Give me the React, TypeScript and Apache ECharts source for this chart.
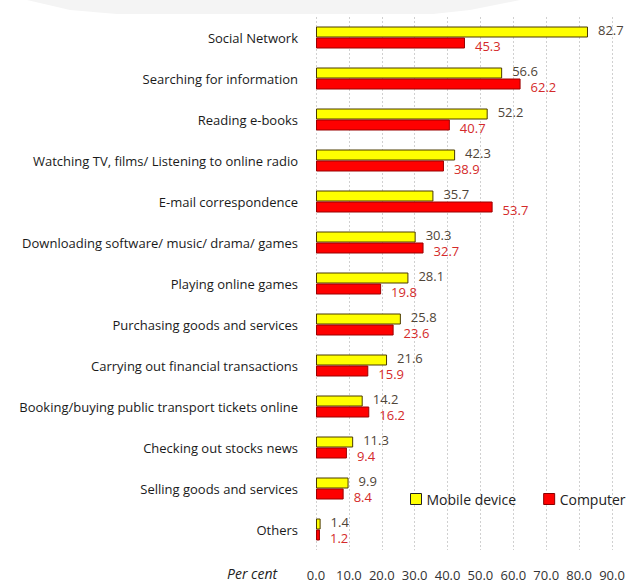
import React, { useEffect, useRef } from "react";
import * as echarts from "echarts";

const categories = [
  "Social Network",
  "Searching for information",
  "Reading e-books",
  "Watching TV, films/ Listening to online radio",
  "E-mail correspondence",
  "Downloading software/ music/ drama/ games",
  "Playing online games",
  "Purchasing goods and services",
  "Carrying out financial transactions",
  "Booking/buying public transport tickets online",
  "Checking out stocks news",
  "Selling goods and services",
  "Others",
];
const mobile = [82.7, 56.6, 52.2, 42.3, 35.7, 30.3, 28.1, 25.8, 21.6, 14.2, 11.3, 9.9, 1.4];
const computer = [45.3, 62.2, 40.7, 38.9, 53.7, 32.7, 19.8, 23.6, 15.9, 16.2, 9.4, 8.4, 1.2];
const seriesNames = ["Mobile device", "Computer"];
const axisTitle = "Per cent";

const FONT = "'Open Sans', 'DejaVu Sans', sans-serif";

export default function App() {
  const ref = useRef<HTMLDivElement>(null);
  useEffect(() => {
    if (!ref.current) return;
    const chart = echarts.init(ref.current, null, { renderer: "svg" });
    chart.setOption({
      animation: false,
      backgroundColor: "#ffffff",
      textStyle: { fontFamily: FONT },
      grid: { left: 316, right: 16, top: 17, bottom: 33, containLabel: false },
      legend: {
        orient: "horizontal",
        left: 405,
        top: 487,
        width: 240,
        padding: [5, 0, 5, 5],
        itemWidth: 11,
        itemHeight: 11,
        itemGap: 27,
        icon: "rect",
        textStyle: { fontSize: 14, color: "#222", fontFamily: FONT },
        data: [
          { name: seriesNames[0], itemStyle: { color: "#ffff00", borderColor: "#222", borderWidth: 1 } },
          { name: seriesNames[1], itemStyle: { color: "#ff0000", borderColor: "#8a0000", borderWidth: 1 } },
        ],
      },
      graphic: [
        {
          type: "polygon",
          silent: true,
          shape: {
            points: [
              [27, 0],
              [520, 0],
              [470, 10],
              [433, 14],
              [117, 14],
              [70, 10],
            ],
          },
          style: { fill: "#f4f4f4" },
        },
        {
          type: "text",
          left: 227,
          top: 566,
          style: { text: axisTitle, font: `italic 14px ${FONT}`, fill: "#222" },
        },
      ],
      xAxis: {
        type: "value",
        min: 0,
        max: 90,
        interval: 10,
        axisLine: { show: false },
        axisTick: { show: false },
        axisLabel: {
          formatter: (v: number) => v.toFixed(1),
          fontSize: 13,
          color: "#333",
          margin: 18,
          fontFamily: FONT,
        },
        splitLine: { show: true, lineStyle: { color: "#d0d0d0", type: [2, 2], width: 1 } },
      },
      yAxis: {
        type: "category",
        inverse: true,
        data: categories,
        axisLine: { show: false },
        axisTick: { show: false },
        axisLabel: { fontSize: 13, color: "#1a1a1a", margin: 18, fontFamily: FONT },
      },
      series: [
        {
          name: seriesNames[0],
          type: "bar",
          data: mobile,
          barWidth: 11,
          barGap: "0%",
          itemStyle: { color: "#ffff00", borderColor: "#4a3a00", borderWidth: 1 },
          label: {
            show: true,
            position: "right",
            distance: 10,
            formatter: (p: any) => p.value.toFixed(1),
            color: "#4f4538",
            fontSize: 13,
            lineHeight: 13,
            fontFamily: FONT,
            offset: [0, -2],
          },
        },
        {
          name: seriesNames[1],
          type: "bar",
          data: computer,
          barWidth: 11,
          barGap: "0%",
          itemStyle: { color: "#ff0000", borderColor: "#9a0000", borderWidth: 1 },
          label: {
            show: true,
            position: "right",
            distance: 10,
            formatter: (p: any) => p.value.toFixed(1),
            color: "#d42a2a",
            fontSize: 13,
            lineHeight: 13,
            fontFamily: FONT,
            offset: [0, 3],
          },
        },
      ],
    });
    return () => chart.dispose();
  }, []);
  return <div ref={ref} style={{ width: 628, height: 583, position: "absolute", left: 0, top: 0 }} />;
}
